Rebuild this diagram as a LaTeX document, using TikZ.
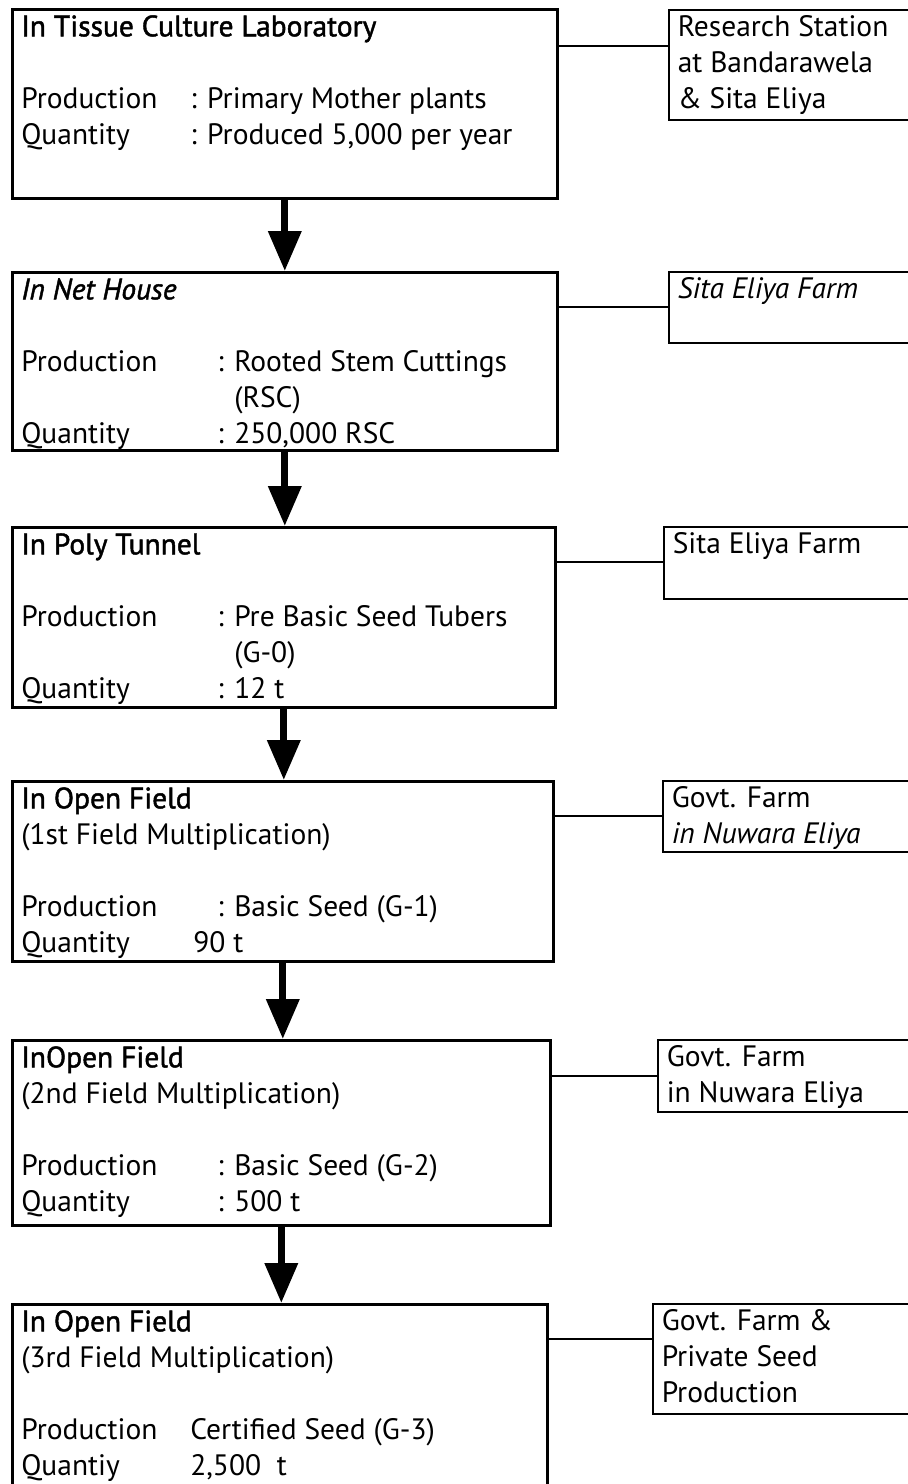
\documentclass[tikz,border=0pt]{standalone}
\usepackage{fontspec}
\setmainfont{PT Sans}
\newfontfamily\headfont{PT Sans}[FakeBold=1.5]
\usetikzlibrary{arrows.meta}

% 箱の中身 (幅, 高さ, 行)
\newcommand{\boxtext}[3]{\parbox[t][#2][t]{#1}{\fontsize{29.5}{36}\selectfont\rule{0pt}{27pt}#3}}

\begin{document}
\begin{tikzpicture}[x=1pt, y=-1pt,
    mainbox/.style={draw, line width=2.6pt, anchor=north west, inner xsep=9pt, inner ysep=0pt},
    sidebox/.style={draw, line width=1.5pt, anchor=north west, inner xsep=9pt, inner ysep=0pt},
    flow/.style={line width=7pt, -{Triangle[width=32pt, length=40pt]}},
    link/.style={line width=1.5pt}]
    \useasboundingbox (0,0) rectangle (908,1484);
    \clip (0,0) rectangle (908,1484);

    % 左の箱を描画
    \node[mainbox] (lab) at (11,8) {\boxtext{527pt}{189pt}{%
        {\headfont In Tissue Culture Laboratory}\\
        \mbox{}\\
        \makebox[169pt][l]{Production}: Primary Mother plants\\
        \makebox[169pt][l]{Quantity}: Produced 5,000 per year}};
    \node[mainbox] (net) at (11,271) {\boxtext{527pt}{178pt}{%
        {\headfont\itshape In Net House}\\
        \mbox{}\\
        \makebox[196pt][l]{Production}: Rooted Stem Cuttings\\
        \makebox[196pt][l]{}\phantom{: }(RSC)\\
        \makebox[196pt][l]{Quantity}: 250,000 RSC}};
    \node[mainbox] (tunnel) at (11,526) {\boxtext{525pt}{180pt}{%
        {\headfont In Poly Tunnel}\\
        \mbox{}\\
        \makebox[196pt][l]{Production}: Pre Basic Seed Tubers\\
        \makebox[196pt][l]{}\phantom{: }(G-0)\\
        \makebox[196pt][l]{Quantity}: 12 t}};
    \node[mainbox] (field1) at (11,780) {\boxtext{523pt}{180pt}{%
        {\headfont In Open Field}\\
        (1st Field Multiplication)\\
        \mbox{}\\
        \makebox[196pt][l]{Production}: Basic Seed (G-1)\\
        \makebox[172pt][l]{Quantity}90 t}};
    \node[mainbox] (field2) at (11,1039) {\boxtext{520pt}{185pt}{%
        {\headfont InOpen Field}\\
        (2nd Field Multiplication)\\
        \mbox{}\\
        \makebox[196pt][l]{Production}: Basic Seed (G-2)\\
        \makebox[196pt][l]{Quantity}: 500 t}};
    \node[mainbox] (field3) at (11,1303) {\boxtext{517pt}{300pt}{%
        {\headfont In Open Field}\\
        (3rd Field Multiplication)\\
        \mbox{}\\
        \makebox[169pt][l]{Production}Certified Seed (G-3)\\
        \makebox[169pt][l]{Quantiy}2,500\ \ t}};

    % 右の箱を描画
    \node[sidebox] (labsite) at (668,9) {\boxtext{240pt}{110pt}{%
        Research Station\\at Bandarawela\\\& Sita Eliya}};
    \node[sidebox] (netsite) at (668,271) {\boxtext{240pt}{71pt}{%
        \itshape Sita Eliya Farm}};
    \node[sidebox] (tunnelsite) at (663,526) {\boxtext{240pt}{72pt}{%
        Sita Eliya Farm}};
    \node[sidebox] (field1site) at (662,780) {\boxtext{240pt}{71pt}{%
        Govt. Farm\\{\itshape in Nuwara Eliya}}};
    \node[sidebox] (field2site) at (657,1039) {\boxtext{240pt}{72pt}{%
        Govt. Farm\\in Nuwara Eliya}};
    \node[sidebox] (field3site) at (652,1303) {\boxtext{240pt}{110pt}{%
        Govt. Farm \&\\Private Seed\\Production}};

    % 矢印を描画
    \draw[flow] (lab.south) -- (lab.south |- net.north);
    \draw[flow] (net.south) -- (net.south |- tunnel.north);
    \draw[flow] (tunnel.south) -- (tunnel.south |- field1.north);
    \draw[flow] (field1.south) -- (field1.south |- field2.north);
    \draw[flow] (field2.south) -- (field2.south |- field3.north);

    % 線を描画
    \draw[link] ([yshift=-38pt]lab.north east) -- ([yshift=-37pt]labsite.north west);
    \draw[link] ([yshift=-36pt]net.north east) -- ([yshift=-36pt]netsite.north west);
    \draw[link] ([yshift=-36pt]tunnel.north east) -- ([yshift=-36pt]tunnelsite.north west);
    \draw[link] ([yshift=-36pt]field1.north east) -- ([yshift=-36pt]field1site.north west);
    \draw[link] ([yshift=-37pt]field2.north east) -- ([yshift=-37pt]field2site.north west);
    \draw[link] ([yshift=-36pt]field3.north east) -- ([yshift=-36pt]field3site.north west);
\end{tikzpicture}
\end{document}
